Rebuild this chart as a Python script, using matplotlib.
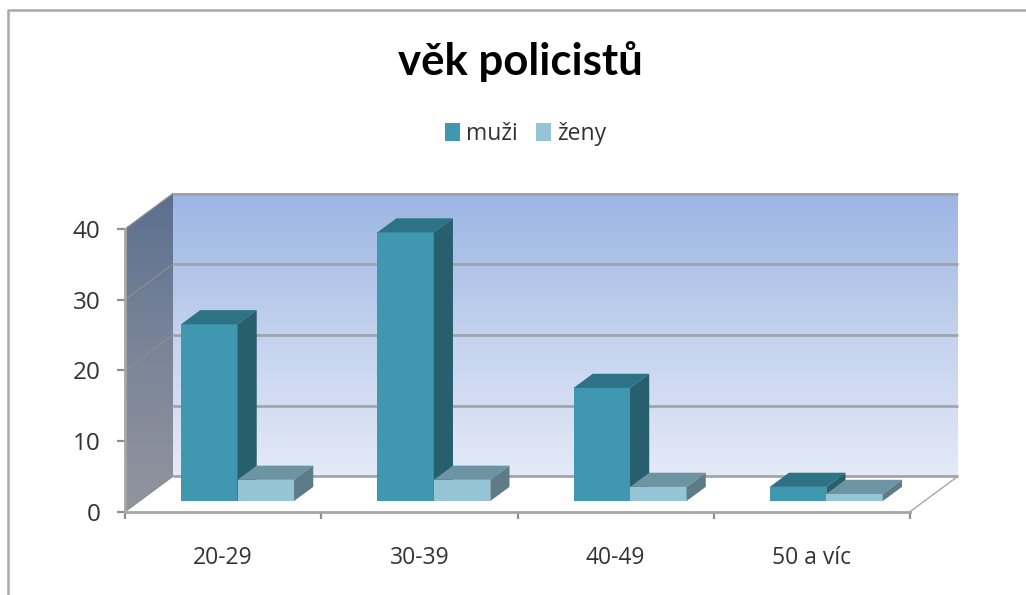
"""věk policistů: Excel-style 3D clustered columns, faked on a flat axes with a depth shear."""
import numpy as np
import matplotlib; matplotlib.use("Agg")
import matplotlib.pyplot as plt
from matplotlib.colors import LinearSegmentedColormap as LSC
from matplotlib.patches import Polygon
from matplotlib.lines import Line2D

title = "věk policistů"
categories = ["20-29", "30-39", "40-49", "50 a víc"]
series_names = ["muži", "ženy"]
muzi = [25, 38, 16, 2]
zeny = [3, 3, 2, 1]
yticks = [0, 10, 20, 30, 40]

W, H = 1026, 595
L, R, Y0, Y40 = 125, 910, 511.7, 229
fig = plt.figure(figsize=(W/100, H/100), dpi=100, facecolor="white")
ax = fig.add_axes([L/W, 1-Y0/H, (R-L)/W, (Y0-Y40)/H])
ax.patch.set_visible(False)

# depth of the box in data units (48 px right, 35.5 px up)
DX = 48 / ((R-L)/4); DY = 35.5 / ((Y0-Y40)/40)
d0, d1 = .30, .70       # bars sit in this slice of the depth
bw = .288
GRID = "#a0a2a6"

def grad(cols, extent, clip=None):
    cm = LSC.from_list("g", cols)
    im = ax.imshow(np.linspace(0, 1, 256)[:, None], cmap=cm, aspect="auto", extent=extent,
                   origin="upper", zorder=1, clip_on=clip is not None)
    if clip is not None:
        clip.set_clip_on(False)
        ax.add_patch(clip); im.set_clip_path(clip); im.set_clip_box(fig.bbox)
    return im

# back wall and left wall
grad(["#9cb5e3", "#c3d2ee", "#e4eaf7"], [DX, 4+DX, DY, 40+DY])
wall = Polygon([(0, 0), (0, 40), (DX, 40+DY), (DX, DY)], transform=ax.transData, fc="none", ec="none")
grad(["#5c6f90", "#7a8599", "#92959d"], [0, DX, 0, 40+DY], clip=wall)

for v in yticks:
    ax.plot([DX, 4+DX], [v+DY, v+DY], color=GRID, lw=1.9, zorder=2, clip_on=False, solid_capstyle="butt")
    ax.plot([0, DX], [v, v+DY], color="#8d8d8d", lw=.9, zorder=2, clip_on=False)
ax.plot([4, 4+DX], [0, DY], color="#a6a6a6", lw=1, zorder=2, clip_on=False)

def bars3d(xs, vals, front, top, side, z, name):
    xs = np.asarray(xs) + DX*d0
    bc = ax.bar(xs, vals, bw, bottom=DY*d0, align="edge", color=front, zorder=z, label=name, clip_on=False)
    ddx, ddy = DX*(d1-d0), DY*(d1-d0)
    for x, v in zip(xs, vals):
        yt = DY*d0 + v
        ax.add_patch(Polygon([(x, yt), (x+bw, yt), (x+bw+ddx, yt+ddy), (x+ddx, yt+ddy)],
                             fc=top, ec="none", zorder=z, clip_on=False))
        ax.add_patch(Polygon([(x+bw, DY*d0), (x+bw, yt), (x+bw+ddx, yt+ddy), (x+bw+ddx, DY*d0+ddy)],
                             fc=side, ec="none", zorder=z, clip_on=False))
    return bc

pos = np.arange(4)
bars3d(pos+.5-bw, muzi, "#4098b0", "#2e7385", "#285f6f", 3, series_names[0])
bars3d(pos+.5, zeny, "#94c4d6", "#6d94a2", "#5e7c88", 4, series_names[1])

ax.set_xlim(0, 4); ax.set_ylim(0, 40)
for s in ["top", "right"]: ax.spines[s].set_visible(False)
for s in ["left", "bottom"]:
    ax.spines[s].set_color("#a6a6a6"); ax.spines[s].set_linewidth(2)
ax.set_yticks(yticks)
ax.set_xticks(range(5)); ax.set_xticklabels([])
ax.set_xticks(pos+.5, categories, minor=True)
ax.tick_params(axis="x", which="major", length=5, width=1.6, color="#8f8f8f")
ax.tick_params(axis="x", which="minor", length=0, pad=24.5, labelsize=16.5, labelcolor="#333333")
ax.tick_params(axis="y", length=5.5, width=1.6, color="#8f8f8f", pad=12, labelsize=17.5, labelcolor="#333333")
for t in ax.get_xticklabels(minor=True) + ax.get_yticklabels():
    t.set_family("Open Sans")

fig.text(520/W, 1-62/H, title, ha="center", va="center", fontsize=31.5, fontweight="bold",
         family="Lato", color="black")
hh, ll = ax.get_legend_handles_labels()
fig.legend(hh, ll, ncols=2, loc="center", bbox_to_anchor=(526/W, 1-134/H), frameon=False,
           prop=dict(family="Open Sans", size=16.5), labelcolor="#333333",
           handlelength=.62, handleheight=.85, handletextpad=.3, columnspacing=.8)

# chart frame, only top and left show in the crop
fig.add_artist(Line2D([8/W, 8/W, 1], [0, 1-10/H, 1-10/H], color="#a8a8a8", lw=1.8))
fig.savefig("out.png", dpi=100)
